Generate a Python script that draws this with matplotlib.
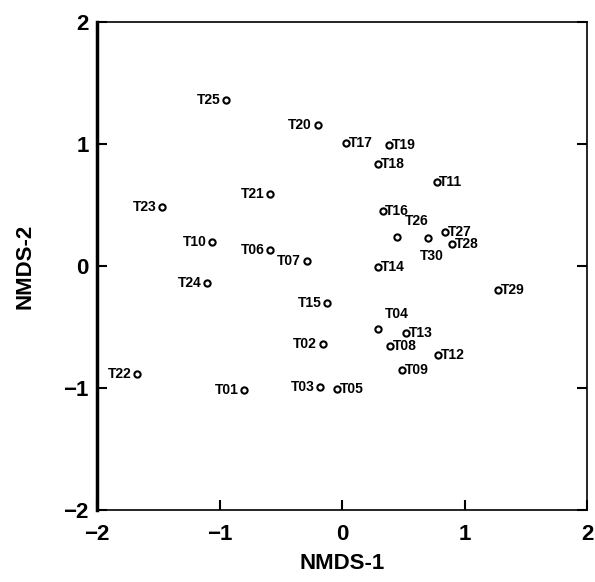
import matplotlib
matplotlib.use("Agg")
import matplotlib.pyplot as plt

plt.rcParams['font.family'] = ['Liberation Sans', 'DejaVu Sans']

# site scores
sites = ["T25", "T20", "T17", "T19", "T18", "T11", "T21", "T23", "T16", "T10",
         "T06", "T07", "T26", "T30", "T27", "T28", "T14", "T24", "T29", "T15",
         "T04", "T02", "T13", "T08", "T12", "T09", "T22", "T01", "T03", "T05"]
nmds1 = [-0.95, -0.20, 0.03, 0.38, 0.29, 0.77, -0.59, -1.47, 0.33, -1.06,
         -0.59, -0.29, 0.45, 0.70, 0.84, 0.90, 0.29, -1.10, 1.27, -0.12,
         0.29, -0.16, 0.52, 0.39, 0.78, 0.49, -1.67, -0.80, -0.18, -0.04]
nmds2 = [1.36, 1.16, 1.01, 0.99, 0.84, 0.69, 0.59, 0.48, 0.45, 0.20,
         0.13, 0.04, 0.24, 0.23, 0.28, 0.18, -0.01, -0.14, -0.20, -0.30,
         -0.52, -0.64, -0.55, -0.66, -0.73, -0.85, -0.89, -1.02, -0.99, -1.01]
# where each label sits relative to its point: L = left, R = right, U/D = above/below
label_side = ["L", "L", "R", "R", "R", "R", "L", "L", "R", "L",
              "L", "L", "U", "D", "R", "R", "R", "L", "R", "L",
              "U", "L", "R", "R", "R", "R", "L", "L", "L", "R"]

fig = plt.figure(figsize=(5.95, 5.82), dpi=100)
ax = fig.add_axes([0.163, 0.124, 0.824, 0.838])

ax.plot(nmds1, nmds2, 'o', ms=4.5, mfc='white', mec='black', mew=1.5, clip_on=False)

for name, x, y, s in zip(sites, nmds1, nmds2, label_side):
    if s == "L":
        off, ha, va = (-4, 0), 'right', 'center'
    elif s == "R":
        off, ha, va = (2, 0), 'left', 'center'
    elif s == "U":
        off, ha, va = (14, 6), 'center', 'bottom'
    else:
        off, ha, va = (3, -8), 'center', 'top'
    ax.annotate(name, (x, y), xytext=off, textcoords='offset points',
                ha=ha, va=va, fontsize=10, fontweight='bold', annotation_clip=False)

ax.set_xlim(-2, 2)
ax.set_ylim(-2, 2)
ax.set_xticks([-2, -1, 0, 1, 2])
ax.set_yticks([-2, -1, 0, 1, 2])
ax.set_xticklabels(["\u22122", "\u22121", "0", "1", "2"])
ax.set_yticklabels(["\u22122", "\u22121", "0", "1", "2"])
ax.tick_params(direction='in', length=7, width=1.5, labelsize=16, right=True)
ax.tick_params(axis='x', pad=10)
ax.tick_params(axis='y', pad=6)
for lab in ax.get_xticklabels() + ax.get_yticklabels():
    lab.set_fontweight('bold')

for side in ['top', 'right', 'bottom']:
    ax.spines[side].set_linewidth(1.2)
ax.spines['left'].set_linewidth(2.5)

ax.set_xlabel("NMDS-1", fontsize=16, fontweight='bold', labelpad=6)
ax.set_ylabel("NMDS-2", fontsize=16, fontweight='bold', labelpad=20)

fig.savefig("out.png", dpi=100)
